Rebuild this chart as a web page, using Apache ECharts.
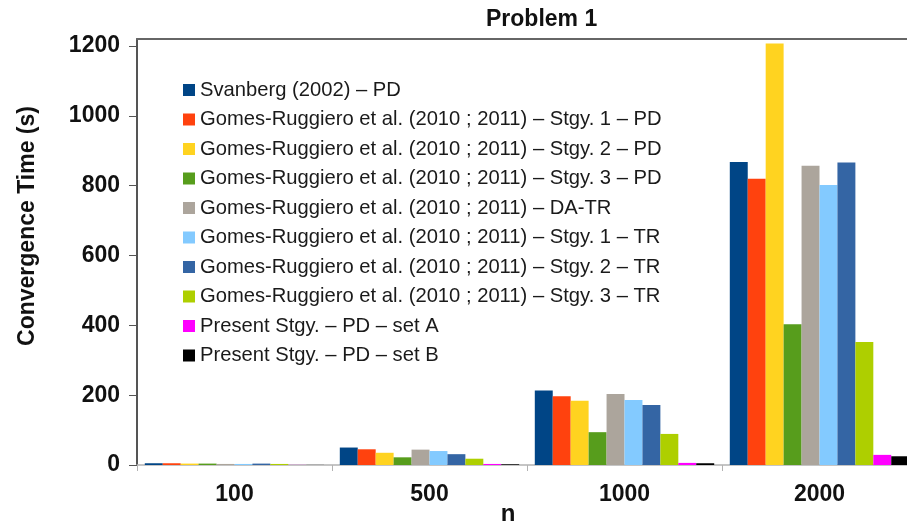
<!DOCTYPE html>
<html>
<head>
<meta charset="utf-8">
<script src="https://cdn.jsdelivr.net/npm/echarts@6/dist/echarts.min.js"></script>
<style>
  html, body { margin: 0; padding: 0; background: #ffffff; }
  #chart { width: 907px; height: 526px; }
</style>
</head>
<body>
<div id="chart"></div>
<script>
// Problem size categories
const categories = ['100', '500', '1000', '2000'];

// Convergence times (s) per strategy, one value per category
const svanbergPD   = [5, 50, 213, 868];
const grStgy1PD    = [5, 45, 197, 820];
const grStgy2PD    = [4, 35, 184, 1207];
const grStgy3PD    = [4, 22, 94, 403];
const grDATR       = [3, 44, 203, 857];
const grStgy1TR    = [3, 40, 186, 802];
const grStgy2TR    = [4, 31, 172, 866];
const grStgy3TR    = [3, 18, 89, 352];
const presentSetA  = [0.3, 3, 6, 29];
const presentSetB  = [0.3, 2, 5, 25];

const seriesNames = [
  'Svanberg (2002) – PD',
  'Gomes-Ruggiero et al. (2010 ; 2011) – Stgy. 1 – PD',
  'Gomes-Ruggiero et al. (2010 ; 2011) – Stgy. 2 – PD',
  'Gomes-Ruggiero et al. (2010 ; 2011) – Stgy. 3 – PD',
  'Gomes-Ruggiero et al. (2010 ; 2011) – DA-TR',
  'Gomes-Ruggiero et al. (2010 ; 2011) – Stgy. 1 – TR',
  'Gomes-Ruggiero et al. (2010 ; 2011) – Stgy. 2 – TR',
  'Gomes-Ruggiero et al. (2010 ; 2011) – Stgy. 3 – TR',
  'Present Stgy. – PD – set A',
  'Present Stgy. – PD – set B'
];
const seriesValues = [
  svanbergPD, grStgy1PD, grStgy2PD, grStgy3PD, grDATR,
  grStgy1TR, grStgy2TR, grStgy3TR, presentSetA, presentSetB
];
const seriesColors = [
  '#004586', '#ff420e', '#ffd320', '#579d1c', '#aca59c',
  '#83caff', '#3465a4', '#aecf00', '#ff00ff', '#000000'
];

const yTicks = { min: 0, max: 1220, interval: 200 };

const FONT = "'Liberation Sans', Arial, sans-serif";

const chart = echarts.init(document.getElementById('chart'), null, { renderer: 'canvas' });

chart.setOption({
  backgroundColor: '#ffffff',
  animation: false,
  title: {
    text: 'Problem 1',
    left: 481,
    top: 3,
    textStyle: { fontFamily: FONT, fontSize: 23, fontWeight: 'bold', color: '#111111' }
  },
  legend: {
    orient: 'vertical',
    left: 178,
    top: 75,
    itemWidth: 12,
    itemHeight: 12,
    itemGap: 9.5,
    icon: 'rect',
    data: seriesNames,
    textStyle: { fontFamily: FONT, fontSize: 20.2, color: '#1a1a1a' }
  },
  grid: { left: 137, right: -10, top: 39, bottom: 61, outerBoundsMode: 'none', containLabel: false },
  xAxis: [
    {
      type: 'category',
      data: categories,
      name: 'n',
      nameLocation: 'middle',
      nameGap: 37,
      nameMoveOverlap: false,
      nameTextStyle: { fontFamily: FONT, fontSize: 24, fontWeight: 'bold', color: '#111111', padding: [0, 38, 0, 0] },
      axisLine: { lineStyle: { color: '#b3b3b3', width: 1.5 } },
      axisTick: { show: true, length: 6, lineStyle: { color: '#b3b3b3' } },
      axisLabel: { fontFamily: FONT, fontSize: 23, fontWeight: 'bold', color: '#111111', margin: 18 },
      splitLine: { show: false }
    },
    {
      type: 'category',
      data: categories,
      position: 'top',
      axisLine: { lineStyle: { color: '#666666', width: 2 } },
      axisTick: { show: false },
      axisLabel: { show: false }
    }
  ],
  yAxis: {
    type: 'value',
    min: yTicks.min,
    max: yTicks.max,
    interval: yTicks.interval,
    name: 'Convergence Time (s)',
    nameLocation: 'middle',
    nameGap: 98,
    nameMoveOverlap: false,
    nameTextStyle: { fontFamily: FONT, fontSize: 23, fontWeight: 'bold', color: '#111111', padding: [0, 0, 0, 52] },
    axisLine: { show: true, lineStyle: { color: '#555555', width: 2 } },
    axisTick: { show: true, length: 8, lineStyle: { color: '#555555' } },
    axisLabel: {
      fontFamily: FONT, fontSize: 23, fontWeight: 'bold', color: '#111111', margin: 17,
      showMaxLabel: false,
      formatter: (v) => String(v)
    },
    splitLine: { show: false }
  },
  series: seriesNames.map((name, i) => ({
    name: name,
    type: 'bar',
    data: seriesValues[i],
    barGap: '0%',
    barCategoryGap: '8%',
    itemStyle: { color: seriesColors[i] }
  }))
});
</script>
</body>
</html>
